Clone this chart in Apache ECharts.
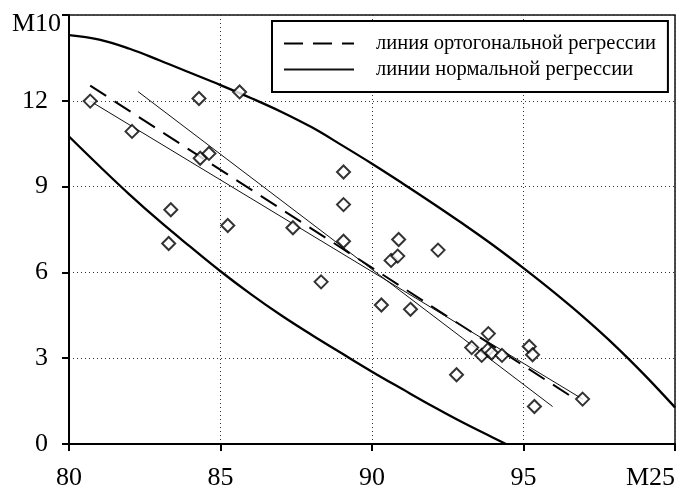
<!DOCTYPE html>
<html>
<head>
<meta charset="utf-8">
<script src="https://cdn.jsdelivr.net/npm/echarts@6/dist/echarts.min.js"></script>
<style>
html,body{margin:0;padding:0;background:#fff;}
#chart{width:678px;height:491px;}
</style>
</head>
<body>
<div id="chart"></div>
<script>
// ---- data ----
const xTicks = [80, 85, 90, 95, 100];
const xTickLabels = ['80', '85', '90', '95', 'M25'];
const yTicks = [0, 3, 6, 9, 12, 15];
const yTickLabels = ['0', '3', '6', '9', '12', ''];
const yAxisTitle = 'M10';

const legendOrtho = 'линия ортогональной регрессии';
const legendNormal = 'линии нормальной регрессии';

// observations (M25, M10)
const pointsX = [80.70, 82.08, 83.36, 83.29, 84.29, 84.33, 84.62, 85.63, 85.24, 87.39, 88.32,
                 89.06, 89.06, 89.06, 90.31, 90.63, 90.85, 90.88, 91.27, 92.18, 92.79, 93.29,
                 93.62, 93.82, 93.95, 93.84, 94.29, 95.19, 95.30, 95.36, 96.95];
const pointsY = [11.99, 10.93, 8.19, 7.01, 12.08, 9.99, 10.16, 12.31, 7.64, 7.56, 5.67,
                 9.51, 8.37, 7.09, 4.86, 6.42, 6.57, 7.15, 4.71, 6.78, 2.42, 3.37,
                 3.10, 3.29, 3.18, 3.86, 3.10, 3.41, 3.12, 1.31, 1.57];

// orthogonal regression line (end points)
const orthoX = [80.70, 96.55];
const orthoY = [12.53, 1.68];
// normal regression lines (end points)
const normalAX = [82.28, 95.96];
const normalAY = [12.32, 1.31];
const normalBX = [80.70, 96.95];
const normalBY = [11.99, 1.57];

// confidence ellipse
const upperX = [80, 81, 82, 83, 84, 85, 86, 87, 88, 89, 90, 91, 92, 93, 94, 95, 96, 97, 98, 99, 100];
const upperY = [14.30, 14.14, 13.82, 13.41, 12.98, 12.55, 12.10, 11.62, 11.08, 10.45, 9.80, 9.12,
                8.42, 7.70, 6.95, 6.15, 5.31, 4.42, 3.46, 2.41, 1.28];
const lowerX = [80, 81, 82, 83, 84, 85, 86, 87, 88, 89, 90, 91, 92, 93, 94, 94.42];
const lowerY = [10.75, 9.72, 8.72, 7.78, 6.90, 6.04, 5.24, 4.50, 3.82, 3.17, 2.53, 1.92, 1.32, 0.75, 0.22, 0];

// ---- chart ----
const pairs = (xs, ys) => xs.map((x, i) => [x, ys[i]]);
const FONT = '"Liberation Serif", "DejaVu Serif", serif';

const chart = echarts.init(document.getElementById('chart'), null, {renderer: 'canvas'});

chart.setOption({
  animation: false,
  backgroundColor: '#fff',
  grid: {
    left: 69, right: 3, top: 15, bottom: 46,
    show: true, borderColor: '#111', borderWidth: 1.5, backgroundColor: 'transparent'
  },
  legend: {
    data: [legendOrtho, legendNormal],
    orient: 'vertical',
    left: 272, top: 21,
    itemWidth: 70, itemHeight: 14, itemGap: 5,
    padding: [12, 12, 12, 11],
    borderColor: '#000', borderWidth: 2,
    backgroundColor: '#fff',
    itemStyle: {opacity: 0, borderWidth: 0},
    textStyle: {fontFamily: FONT, fontSize: 20.5, color: '#000', padding: [0, 0, 0, 17]},
    selectedMode: false
  },
  xAxis: {
    type: 'value', min: 80, max: 100, interval: 5,
    axisLine: {show: true, onZero: false, lineStyle: {color: '#000', width: 2}},
    axisTick: {show: true, inside: false, length: 7, lineStyle: {color: '#000', width: 2}},
    axisLabel: {
      fontFamily: FONT, fontSize: 26, color: '#000', margin: 21,
      alignMaxLabel: 'right',
      formatter: v => { const i = xTicks.indexOf(v); return i >= 0 ? xTickLabels[i] : ''; }
    },
    splitLine: {show: true, lineStyle: {color: '#333', width: 1, type: [1, 3]}}
  },
  yAxis: {
    type: 'value', min: 0, max: 15, interval: 3,
    name: yAxisTitle, nameLocation: 'end', nameGap: -9,
    nameTextStyle: {fontFamily: FONT, fontSize: 26, color: '#000', align: 'right',
                    verticalAlign: 'middle', padding: [0, 8, 0, 0]},
    axisLine: {show: true, onZero: false, lineStyle: {color: '#000', width: 2}},
    axisTick: {show: true, inside: false, length: 7, lineStyle: {color: '#000', width: 2}},
    axisLabel: {
      fontFamily: FONT, fontSize: 26, color: '#000', margin: 21,
      formatter: v => { const i = yTicks.indexOf(v); return i >= 0 ? yTickLabels[i] : ''; }
    },
    splitLine: {show: true, lineStyle: {color: '#333', width: 1, type: [1, 3]}}
  },
  series: [
    {
      type: 'line', name: 'ellipse-upper', data: pairs(upperX, upperY),
      smooth: 0.4, symbol: 'none', clip: true,
      lineStyle: {color: '#000', width: 2.3}, z: 2
    },
    {
      type: 'line', name: 'ellipse-lower', data: pairs(lowerX, lowerY),
      smooth: 0.4, symbol: 'none', clip: true,
      lineStyle: {color: '#000', width: 2.3}, z: 2
    },
    {
      type: 'line', name: legendOrtho, data: pairs(orthoX, orthoY),
      symbol: 'none', itemStyle: {color: '#000'},
      lineStyle: {color: '#000', width: 2, type: [19, 10]}, z: 3
    },
    {
      type: 'line', name: legendNormal, data: pairs(normalAX, normalAY),
      symbol: 'none', itemStyle: {color: '#000'},
      lineStyle: {color: '#111', width: 1}, z: 3
    },
    {
      type: 'line', name: legendNormal, data: pairs(normalBX, normalBY),
      symbol: 'none', itemStyle: {color: '#000'},
      lineStyle: {color: '#111', width: 1}, z: 3
    },
    {
      type: 'scatter', name: 'points', data: pairs(pointsX, pointsY),
      symbol: 'diamond', symbolSize: 13,
      itemStyle: {color: '#fff', borderColor: '#000', borderWidth: 2}, z: 5
    }
  ]
});
</script>
</body>
</html>
